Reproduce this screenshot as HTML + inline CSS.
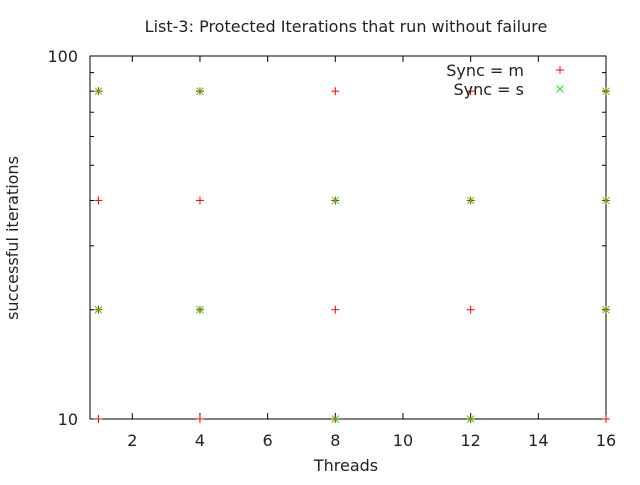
<!DOCTYPE html>
<html><head><meta charset="utf-8"><style>body{margin:0;background:#fff}svg{font-family:"DejaVu Sans","Liberation Sans",sans-serif}</style></head>
<body>
<svg id="c" width="640" height="480"></svg>
<script>
const mThreads=[1,1,1,1,4,4,4,4,8,8,8,8,12,12,12,12,16,16,16,16];
const mValues=[80,40,20,10,80,40,20,10,80,40,20,10,80,40,20,10,80,40,20,10];
const sThreads=[1,1,4,4,8,8,12,12,16,16,16];
const sValues=[80,20,80,20,40,10,40,10,80,40,20];
const xTicks=[2,4,6,8,10,12,14,16];
const yTicks=[10,100];
const NS="http://www.w3.org/2000/svg";
const svg=document.getElementById('c');
const L=90,R=606,T=56,B=419;
const FS=16;
const xs=v=>L+(v-0.75)/(16-0.75)*(R-L);
const ys=v=>B-(Math.log10(v)-1)*(B-T);
function el(t,a,p){const e=document.createElementNS(NS,t);for(const k in a)e.setAttribute(k,a[k]);(p||svg).appendChild(e);return e;}
const frame=el('rect',{x:L,y:T,width:R-L,height:B-T,fill:'none',stroke:'#000','stroke-width':1});


xTicks.forEach(v=>{const x=xs(v);
 el('line',{x1:x,y1:B,x2:x,y2:B-6,stroke:'#000'});el('line',{x1:x,y1:T,x2:x,y2:T+6,stroke:'#000'});
 const t=el('text',{x:x,y:B+27,'text-anchor':'middle','font-size':FS,fill:'#222'});t.textContent=v;
 
 });
for(let v=20;v<=90;v+=10){const y=ys(v);el('line',{x1:L,y1:y,x2:L+4,y2:y,stroke:'#000'});el('line',{x1:R,y1:y,x2:R-4,y2:y,stroke:'#000'});}
yTicks.forEach(v=>{const y=ys(v);
 el('line',{x1:L,y1:y,x2:L+8,y2:y,stroke:'#000'});el('line',{x1:R,y1:y,x2:R-8,y2:y,stroke:'#000'});
 const t=el('text',{x:L-12,y:y+6,'text-anchor':'end','font-size':FS,fill:'#222'});t.textContent=v;
 
 });
function plus(x,y,c){const g=el('g',{stroke:c,'stroke-width':1});el('line',{x1:x-4,y1:y,x2:x+4,y2:y},g);el('line',{x1:x,y1:y-4,x2:x,y2:y+4},g);return g;}
function cross(x,y,c){const g=el('g',{stroke:c,'stroke-width':1});el('line',{x1:x-3.5,y1:y-3.5,x2:x+3.5,y2:y+3.5},g);el('line',{x1:x-3.5,y1:y+3.5,x2:x+3.5,y2:y-3.5},g);return g;}
mThreads.forEach((t,i)=>{const g=plus(xs(t),ys(mValues[i]),'#f00');
 
 });
sThreads.forEach((t,i)=>{const g=cross(xs(t),ys(sValues[i]),'#0e0');
 
 });
const lm=plus(560,70,'#f00');
const ls=cross(560,89,'#0e0');
function txt(s,a,n){const t=el('text',a);t.textContent=s;return t;}
txt('Sync = m',{x:524,y:76,'text-anchor':'end','font-size':FS,fill:'#222'},'legend-label-m');
txt('Sync = s',{x:524,y:95,'text-anchor':'end','font-size':FS,fill:'#222'},'legend-label-s');
txt('List-3: Protected Iterations that run without failure',{x:346,y:32,'text-anchor':'middle','font-size':FS,fill:'#222'},'chart-title');
txt('Threads',{x:346,y:471,'text-anchor':'middle','font-size':FS,fill:'#222'},'x-axis-title');
txt('successful iterations',{x:18,y:238,'text-anchor':'middle','font-size':FS,fill:'#222',transform:'rotate(-90 18 238)'},'y-axis-title');
</script>
</body></html>
